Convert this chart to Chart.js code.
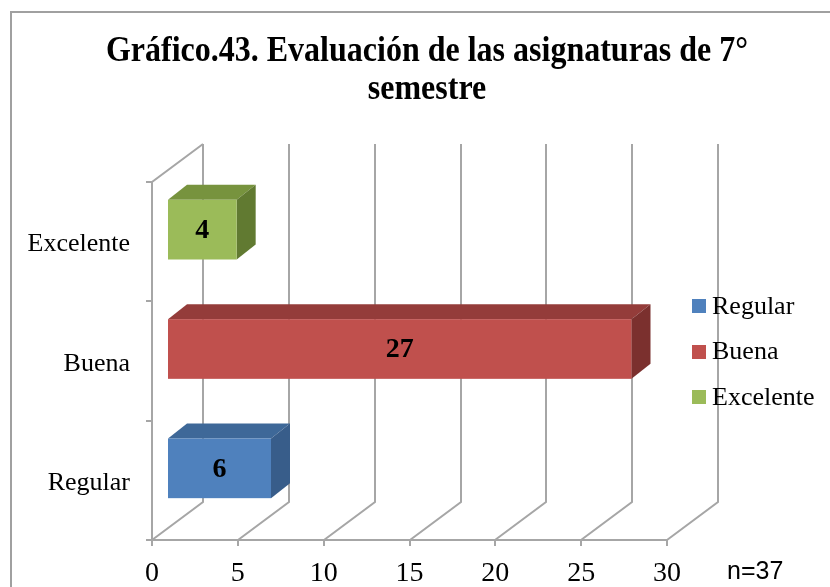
<!DOCTYPE html>
<html>
<head>
<meta charset="utf-8">
<script src="https://cdn.jsdelivr.net/npm/chart.js@4.4.0/dist/chart.umd.min.js"></script>
<style>
  html, body { margin: 0; padding: 0; background: #fff; }
  #wrap { width: 830px; height: 587px; position: relative; }
</style>
</head>
<body>
<div id="wrap"><canvas id="c"></canvas></div>
<script>
// Data
const categories = ['Regular', 'Buena', 'Excelente'];
const counts = [6, 27, 4];
const xTicks = [0, 5, 10, 15, 20, 25, 30];
const titleLines = ['Gráfico.43. Evaluación de las asignaturas de 7°', 'semestre'];
const sampleNote = 'n=37';

// Colours for the front, top and side faces of each box
const faceColors = ['#4F81BD', '#C0504D', '#9BBB59'];
const topColors  = ['#3E6898', '#943C3A', '#77933E'];
const sideColors = ['#385D8A', '#7B302E', '#617A31'];

const SERIF = '"Liberation Serif", "Times New Roman", serif';
const SANS = '"Liberation Sans", Arial, sans-serif';
const WALL = { dx: 51, dy: -38 };              // back wall offset
const BOX = { fx: 16, fy: -12, dx: 19, dy: -15 }; // box front offset and depth
const GRID = '#a6a6a6';

const scene3d = {
  id: 'scene3d',
  beforeDraw(chart) {
    const ctx = chart.ctx;
    ctx.save();
    ctx.fillStyle = '#fff';
    ctx.fillRect(0, 0, chart.width, chart.height);
    // outer frame
    ctx.strokeStyle = '#a0a0a0';
    ctx.lineWidth = 2;
    ctx.beginPath();
    ctx.moveTo(11, chart.height + 5);
    ctx.lineTo(11, 12);
    ctx.lineTo(chart.width + 5, 12);
    ctx.stroke();
    // title, slightly tall lettering
    ctx.fillStyle = '#000';
    ctx.font = 'bold 32px ' + SERIF;
    ctx.textAlign = 'center';
    ctx.textBaseline = 'alphabetic';
    ctx.save();
    ctx.translate(427, 0);
    ctx.scale(1, 1.1);
    ctx.fillText(titleLines[0], 0, 61 / 1.1);
    ctx.fillText(titleLines[1], 0, 99 / 1.1);
    ctx.restore();
    ctx.restore();
  },
  beforeDatasetsDraw(chart) {
    const { ctx, chartArea: a, scales: { x, y } } = chart;
    ctx.save();
    // walls, floor and axes
    ctx.strokeStyle = GRID;
    ctx.lineWidth = 2;
    ctx.beginPath();
    xTicks.forEach(v => {
      const px = Math.round(x.getPixelForValue(v));
      ctx.moveTo(px + WALL.dx, a.top + WALL.dy);
      ctx.lineTo(px + WALL.dx, a.bottom + WALL.dy);
      ctx.lineTo(px, a.bottom);
      ctx.moveTo(px, a.bottom);
      ctx.lineTo(px, a.bottom + 6);
    });
    const x0 = Math.round(x.getPixelForValue(0));
    ctx.moveTo(x0 + WALL.dx, a.top + WALL.dy);
    ctx.lineTo(x0, a.top);
    ctx.lineTo(x0, a.bottom);
    ctx.lineTo(Math.round(x.getPixelForValue(xTicks[xTicks.length - 1])), a.bottom);
    const band = Math.abs(y.getPixelForValue(1) - y.getPixelForValue(0));
    categories.forEach((c, i) => {
      const cy = y.getPixelForValue(i);
      [cy - band / 2, cy + band / 2].forEach(py => {
        ctx.moveTo(x0 - 6, Math.round(py));
        ctx.lineTo(x0, Math.round(py));
      });
    });
    ctx.stroke();

    // boxes
    const meta = chart.getDatasetMeta(0);
    meta.data.forEach((bar, i) => {
      const p = bar.getProps(['x', 'y', 'base', 'height'], true);
      const L = p.base + BOX.fx, R = p.x + BOX.fx;
      const T = p.y - p.height / 2 + BOX.fy, B = p.y + p.height / 2 + BOX.fy;
      // top face
      ctx.fillStyle = topColors[i];
      ctx.beginPath();
      ctx.moveTo(L, T); ctx.lineTo(R, T);
      ctx.lineTo(R + BOX.dx, T + BOX.dy); ctx.lineTo(L + BOX.dx, T + BOX.dy);
      ctx.closePath(); ctx.fill();
      // side face
      ctx.fillStyle = sideColors[i];
      ctx.beginPath();
      ctx.moveTo(R, T); ctx.lineTo(R + BOX.dx, T + BOX.dy);
      ctx.lineTo(R + BOX.dx, B + BOX.dy); ctx.lineTo(R, B);
      ctx.closePath(); ctx.fill();
      // front face
      ctx.fillStyle = faceColors[i];
      ctx.fillRect(L, T, R - L, B - T);
      // value label
      ctx.fillStyle = '#000';
      ctx.font = 'bold 28px ' + SERIF;
      ctx.textAlign = 'center';
      ctx.textBaseline = 'middle';
      ctx.fillText(String(counts[i]), (L + R) / 2, (T + B) / 2 + 1);
    });
    ctx.restore();
    return false;
  },
  afterDraw(chart) {
    const ctx = chart.ctx;
    ctx.save();
    // legend
    ctx.font = '26px ' + SERIF;
    ctx.textAlign = 'left';
    ctx.textBaseline = 'middle';
    categories.forEach((c, i) => {
      const cy = 306 + i * 45.5;
      ctx.fillStyle = faceColors[i];
      ctx.fillRect(692, Math.round(cy - 7), 14, 14);
      ctx.fillStyle = '#000';
      ctx.fillText(c, 712, cy + 1);
    });
    // sample size
    ctx.font = '25px ' + SANS;
    ctx.fillText(sampleNote, 727, 572);
    ctx.restore();
  }
};

new Chart(document.getElementById('c'), {
  type: 'bar',
  data: {
    labels: categories,
    datasets: [{
      data: counts,
      backgroundColor: faceColors,
      categoryPercentage: 1,
      barPercentage: 0.5
    }]
  },
  options: {
    indexAxis: 'y',
    responsive: true,
    maintainAspectRatio: false,
    animation: false,
    layout: { padding: { left: 0, right: 163, top: 182, bottom: 0 } },
    plugins: {
      legend: { display: false },
      title: { display: false },
      tooltip: { enabled: false }
    },
    scales: {
      x: {
        min: 0, max: 30,
        afterBuildTicks(s) { s.ticks = xTicks.map(v => ({ value: v })); },
        ticks: { color: '#000', font: { family: SERIF, size: 28 }, padding: 17 },
        grid: { display: false, drawTicks: false },
        border: { display: false },
        afterFit(s) { s.height = 47; }
      },
      y: {
        reverse: true,
        ticks: { color: '#000', font: { family: SERIF, size: 26 }, padding: 22, labelOffset: 3 },
        grid: { display: false, drawTicks: false },
        border: { display: false },
        afterFit(s) { s.width = 152; }
      }
    }
  },
  plugins: [scene3d]
});
</script>
</body>
</html>
